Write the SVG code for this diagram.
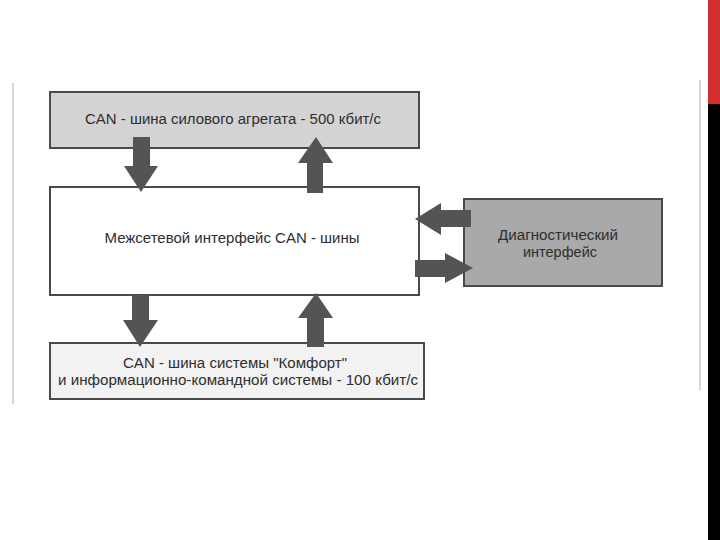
<svg xmlns="http://www.w3.org/2000/svg" width="720" height="540" viewBox="0 0 720 540">
  <style>
    .box { stroke: #4a4a4a; stroke-width: 2; }
    .lbl { font-family: "Liberation Sans", Arial, sans-serif; font-size: 14px; fill: #2e2e2e; text-anchor: middle; }
    .arr { fill: #545454; }
  </style>
  <rect x="0" y="0" width="720" height="540" fill="#ffffff"/>
  <line x1="13" y1="83" x2="13" y2="404" stroke="#c8c8c8" stroke-width="1.5"/>
  <line x1="700" y1="80" x2="700" y2="390" stroke="#c8c8c8" stroke-width="1.5"/>
  <rect x="708" y="0" width="12" height="104" fill="#d32f2f"/>
  <rect x="708" y="104" width="12" height="436" fill="#000000"/>

  <g id="node-power">
    <rect class="box" x="50" y="92" width="369" height="56" fill="#d3d3d3"/>
    <text class="lbl" x="233" y="124" textLength="296" lengthAdjust="spacingAndGlyphs">CAN - шина силового агрегата - 500 кбит/с</text>
  </g>
  <g id="node-gateway">
    <rect class="box" x="50" y="187" width="369" height="108" fill="#ffffff"/>
    <text class="lbl" x="232" y="243" textLength="255" lengthAdjust="spacingAndGlyphs">Межсетевой интерфейс CAN - шины</text>
  </g>
  <g id="node-diag">
    <rect class="box" x="464" y="199" width="198" height="87" fill="#a9a9a9"/>
    <text class="lbl" x="558" y="240" textLength="120" lengthAdjust="spacingAndGlyphs">Диагностический</text>
    <text class="lbl" x="560" y="257" textLength="74" lengthAdjust="spacingAndGlyphs">интерфейс</text>
  </g>
  <g id="node-comfort">
    <rect class="box" x="50" y="343" width="374" height="56" fill="#f2f2f2"/>
    <text class="lbl" x="235" y="368" textLength="224" lengthAdjust="spacingAndGlyphs">CAN - шина системы "Комфорт"</text>
    <text class="lbl" x="238" y="385" textLength="360" lengthAdjust="spacingAndGlyphs">и информационно-командной системы - 100 кбит/с</text>
  </g>

  <g id="connectors">
    <!-- power -> gateway (down) -->
    <polygon class="arr" points="133,137 150,137 150,166 158,166 141,192 124,166 133,166"/>
    <!-- gateway -> power (up) -->
    <polygon class="arr" points="307,193 323,193 323,163 333,163 316,137 298,163 307,163"/>
    <!-- diag -> gateway (left) -->
    <polygon class="arr" points="471,210 441,210 441,203 415,219 441,235 441,227 471,227"/>
    <!-- gateway -> diag (right) -->
    <polygon class="arr" points="415,260 445,260 445,253 473,268 445,283 445,277 415,277"/>
    <!-- gateway -> comfort (down) -->
    <polygon class="arr" points="132,295 149,295 149,320 158,320 140,347 123,320 132,320"/>
    <!-- comfort -> gateway (up) -->
    <polygon class="arr" points="307,347 324,347 324,318 333,318 316,293 298,318 307,318"/>
  </g>
</svg>
